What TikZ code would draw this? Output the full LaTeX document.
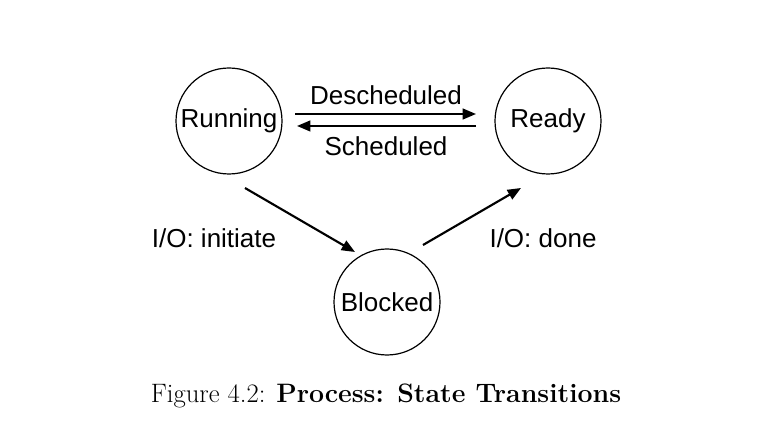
\documentclass[tikz,border=0pt]{standalone}
\usepackage{fontspec}
\newfontfamily\diagfont{Liberation Sans}
\usetikzlibrary{arrows.meta}
\begin{document}
\begin{tikzpicture}[x=0.75pt,y=-0.75pt,
  state/.style={draw, circle, line width=0.9pt, minimum size=79.5pt, inner sep=0pt, font=\diagfont\fontsize{19.5}{23}\selectfont},
  lbl/.style={font=\diagfont\fontsize{19.5}{23}\selectfont, inner sep=0pt},
  trans/.style={line width=1.6pt, -{Triangle[length=10pt,width=8pt]}}]
\useasboundingbox (0,0) rectangle (784,427);
\node[state] (run) at (229,121) {Running};
\node[state] (rdy) at (548,121) {Ready};
\node[state] (blk) at (387,302) {Blocked};
\draw[trans] ([shift={(66,-7)}]run.center) -- ([shift={(-72,-7)}]rdy.center);
\draw[trans] ([shift={(-72,5)}]rdy.center) -- ([shift={(68,5)}]run.center);
\node[lbl] (desch) at (386,95) {Descheduled};
\node[lbl] (sch) at (386,146) {Scheduled};
\draw[trans] ([shift={(16,67)}]run.center) -- ([shift={(-32,-50)}]blk.center);
\draw[trans] ([shift={(36,-57)}]blk.center) -- ([shift={(-27,67)}]rdy.center);
\node[lbl] (init) at (214,238) {I/O: initiate};
\node[lbl] (done) at (543,238) {I/O: done};
\node[inner sep=0pt, font=\fontsize{20}{24}\selectfont] (cap) at (386,396) {Figure 4.2: \textbf{Process: State Transitions}};
\end{tikzpicture}
\end{document}
